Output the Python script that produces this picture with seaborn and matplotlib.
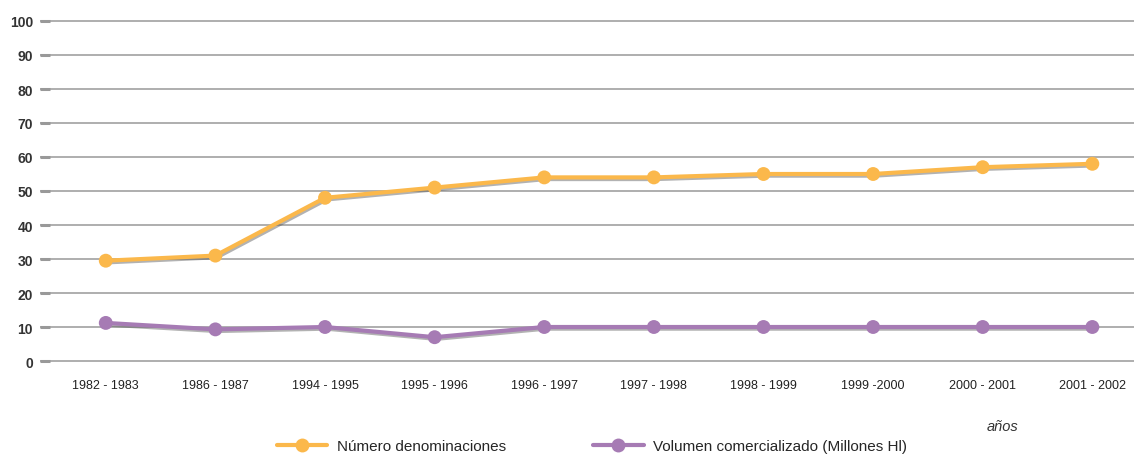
import pandas as pd
import seaborn as sns
import matplotlib
matplotlib.use('Agg')
import matplotlib.pyplot as plt
import matplotlib.patheffects as pe
from matplotlib.lines import Line2D
from matplotlib import font_manager

# datos
periodos = ["1982 - 1983", "1986 - 1987", "1994 - 1995", "1995 - 1996", "1996 - 1997",
            "1997 - 1998", "1998 - 1999", "1999 -2000", "2000 - 2001", "2001 - 2002"]
num_denominaciones = [29.5, 31, 48, 51, 54, 54, 55, 55, 57, 58]
volumen_hl = [11.2, 9.3, 10, 7, 10, 10, 10, 10, 10, 10]
serie_nombres = ["Número denominaciones", "Volumen comercializado (Millones Hl)"]
colores = ["#FBB84B", "#A67BB4"]

df = pd.DataFrame({
    "periodo": periodos * 2,
    "x": list(range(len(periodos))) * 2,
    "valor": num_denominaciones + volumen_hl,
    "serie": [serie_nombres[0]] * len(periodos) + [serie_nombres[1]] * len(periodos),
})

sns.set_style("white")
plt.rcParams["font.family"] = ["Liberation Sans", "DejaVu Sans"]
nombres = {f.name for f in font_manager.fontManager.ttflist}
narrow = "Liberation Sans Narrow" if "Liberation Sans Narrow" in nombres else "Liberation Sans"
tam_x = 10 if narrow == "Liberation Sans Narrow" else 9

fig = plt.figure(figsize=(11.34, 4.56), dpi=100)
ax = fig.add_axes([40 / 1134, 1 - 368.8 / 456, 1 - 40 / 1134, 353.6 / 456])

sns.lineplot(data=df, x="x", y="valor", hue="serie", palette=colores,
             marker="o", markersize=10, linewidth=3, markeredgewidth=0,
             legend=False, ax=ax)

sombra = [pe.SimpleLineShadow(offset=(1, -1.2), shadow_color="#555555", alpha=0.45), pe.Normal()]
for ln in ax.lines:
    ln.set_path_effects(sombra)
    ln.set_zorder(3)

ax.set_ylim(-2, 102)
ax.set_xlim(-0.6, len(periodos) - 0.62)
ax.set_yticks(range(0, 101, 10))
ax.yaxis.grid(True, color="#999999", linewidth=1.1)
ax.set_axisbelow(True)
for s in ax.spines.values():
    s.set_visible(False)

ax.set_xticks(range(len(periodos)))
ax.set_xticklabels(periodos, fontsize=tam_x, family=narrow, color="#222222")
ax.tick_params(axis="x", length=0, pad=8)
ax.tick_params(axis="y", left=True, direction="in", length=7.5, width=2.2,
               color="#999999", pad=5, labelsize=10)
for t in ax.get_yticklabels():
    t.set_fontweight("bold")
    t.set_color("#333333")
ax.set_xlabel("")
ax.set_ylabel("")

fig.text(1003 / 1134, 1 - 427 / 456, "años", style="italic", fontsize=10.5,
         ha="center", va="center", color="#333333")

handles = [Line2D([], [], color=c, linewidth=3, marker="o", markersize=10, markeredgewidth=0)
           for c in colores]
fig.legend(handles, serie_nombres, loc="center", bbox_to_anchor=(592 / 1134, 1 - 447 / 456),
           ncol=2, frameon=False, handlelength=3.3, columnspacing=5.7, handletextpad=0.65,
           prop={"family": narrow, "size": 11})

fig.savefig("out.png", dpi=100)
